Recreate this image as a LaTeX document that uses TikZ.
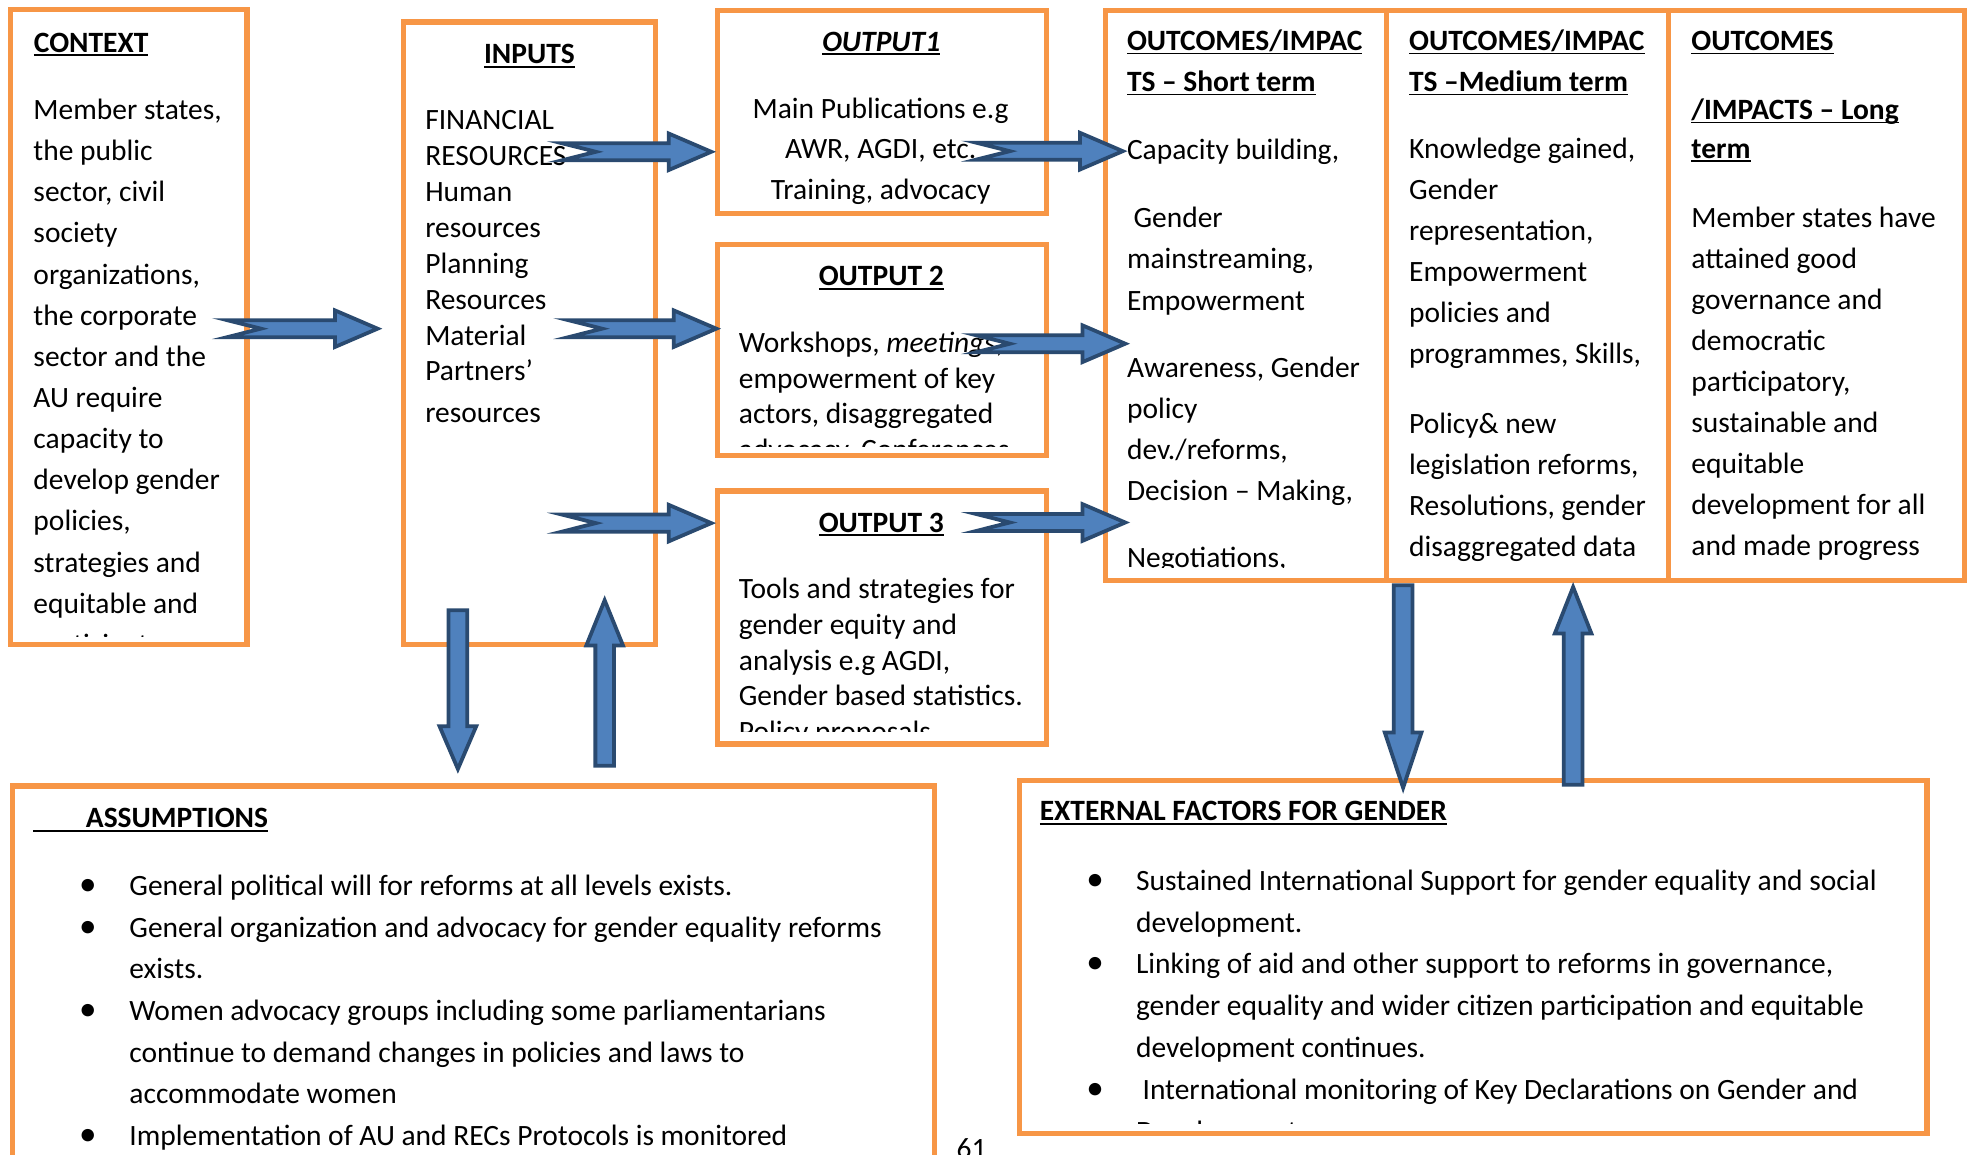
\documentclass[tikz,border=0pt]{standalone}
\usepackage{fontspec}
\setmainfont{Carlito}
\usetikzlibrary{calc,fit}

\definecolor{boxorange}{HTML}{F79646}
\definecolor{arrowfill}{HTML}{4F81BD}
\definecolor{arrowline}{HTML}{2A4A70}

% underlined heading text (rule slightly below the baseline)
\newlength\ulwd
\newcommand\ultext[1]{\leavevmode\settowidth\ulwd{#1}\rlap{\rule[-1.6pt]{\ulwd}{0.75pt}}#1}

% notched block arrow pointing right: tail coordinate, tip coordinate
\newcommand\harrow[2]{%
  \draw[barrow] let \p1=(#1), \p2=(#2) in
    (\x1,\y1+3.4pt) -- (\x2-17pt,\y1+3.4pt) -- (\x2-17pt,\y1+7.3pt) -- (\x2,\y1)
    -- (\x2-17pt,\y1-7.3pt) -- (\x2-17pt,\y1-3.4pt) -- (\x1,\y1-3.4pt)
    -- (\x1+13.5pt,\y1) -- cycle;}
% vertical block arrow: tail, tip, signed head length
\newcommand\varrow[3]{%
  \draw[barrow] let \p1=(#1), \p2=(#2), \n1={\y2+(#3)} in
    (\x1-3.7pt,\y1) -- (\x1-3.7pt,\n1) -- (\x1-7.3pt,\n1) -- (\x1,\y2)
    -- (\x1+7.3pt,\n1) -- (\x1+3.7pt,\n1) -- (\x1+3.7pt,\y1) -- cycle;}

\tikzset{
  obox/.style={draw=boxorange, line width=2.1pt, inner sep=0pt, outer sep=0pt},
  oline/.style={draw=boxorange, line width=2.1pt},
  txt/.style={anchor=base west, inner sep=0pt, outer sep=0pt, yshift=-0.6pt,
              font=\fontsize{11.75pt}{#1}\selectfont},
  txt/.default=16.4pt,
  ctxt/.style={txt=#1, anchor=base},
  ctxt/.default=16.4pt,
  hd/.style={txt, font=\fontsize{11.75pt}{16.35pt}\selectfont\bfseries},
  bul/.style={anchor=base, inner sep=0pt, yshift=-0.6pt, font=\fontsize{14pt}{14pt}\selectfont},
  barrow/.style={fill=arrowfill, draw=arrowline, line width=1.5pt, line join=miter},
}

\begin{document}
\begin{tikzpicture}[x=0.5pt,y=-0.5pt]
\useasboundingbox (0,0) rectangle (1568,920);
\clip (0,0) rectangle (1568,920);
\fill[white] (0,0) rectangle (1568,920);

% ---------- frames ----------
\node[obox, fit={(8.5,7.5) (197,514)}] (context) {};
\node[obox, fit={(321.7,17.6) (522.6,514)}] (inputs) {};
\node[obox, fit={(571.7,8.4) (834,170)}] (out1) {};
\node[obox, fit={(571.7,194.8) (834,363)}] (out2) {};
\node[obox, fit={(571.7,391.3) (834,593)}] (out3) {};
\node[obox, fit={(881,8.4) (1566,463)}] (outcomes) {};
\draw[oline] (1105,8.4) -- (1105,463);
\draw[oline] (1330.3,8.4) -- (1330.3,463);
\node[obox, fit={(10,626.5) (745,990)}] (assump) {};
\node[obox, fit={(812.8,622) (1536,903.8)}] (extern) {};

% ---------- context ----------
\node[hd] (ctx-h) at (27,40.3) {\ultext{CONTEXT}};
\begin{scope}
  \clip (12,12) rectangle (193,507.5);
  \node[txt=16.4pt] (ctx-b) at (26.7,94) {\parbox[t]{160pt}{Member states,\\the public\\sector, civil\\society\\organizations,\\the corporate\\sector and the\\AU require\\capacity to\\develop gender\\policies,\\strategies and\\equitable and\\participatory}};
\end{scope}

% ---------- inputs ----------
\node[hd, anchor=base] (in-h) at (422,49.7) {\ultext{INPUTS}};
\node[txt=14.3pt] (in-b) at (339,102.3) {\parbox[t]{120pt}{FINANCIAL\\RESOURCES\\Human\\resources\\Planning\\Resources\\Material\\Partners’}};
\node[txt] (in-c) at (339,335.5) {resources};

% ---------- outputs ----------
\node[hd, anchor=base] (o1-h) at (702.5,39.7) {\ultext{\textit{OUTPUT1}}};
\node[ctxt=16.25pt] (o1-b) at (702,93) {\parbox[t]{160pt}{\centering Main Publications e.g\\AWR, AGDI, etc.\\Training, advocacy}};

\node[hd, anchor=base] (o2-h) at (702.5,226.6) {\ultext{OUTPUT 2}};
\begin{scope}
  \clip (575,200) rectangle (830,356);
  \node[txt=14.15pt] (o2-b) at (589,280) {\parbox[t]{160pt}{Workshops, \textit{meetings},\\empowerment of key\\actors, disaggregated\\advocacy, Conferences}};
\end{scope}

\node[hd, anchor=base] (o3-h) at (702.5,423) {\ultext{OUTPUT 3}};
\begin{scope}
  \clip (575,395) rectangle (830,583.5);
  \node[txt=14.25pt] (o3-b) at (589,476) {\parbox[t]{160pt}{Tools and strategies for\\gender equity and\\analysis e.g AGDI,\\Gender based statistics.\\Policy proposals}};
\end{scope}

% ---------- outcomes: short term ----------
\node[hd] (st-h) at (898.4,39) {\parbox[t]{140pt}{\ultext{OUTCOMES/IMPAC}\\\ultext{TS – Short term}}};
\node[txt] (st-1) at (898.4,125.7) {Capacity building,};
\node[txt=16.5pt] (st-2) at (898.4,180) {\parbox[t]{120pt}{\hspace*{2.6pt}Gender\\mainstreaming,\\Empowerment}};
\node[txt=16.4pt] (st-3) at (898.4,299.6) {\parbox[t]{120pt}{Awareness, Gender\\policy\\dev./reforms,\\Decision – Making,}};
\begin{scope}
  \clip (885,300) rectangle (1100,452.5);
  \node[txt] (st-4) at (898.4,451.5) {Negotiations,};
\end{scope}

% ---------- outcomes: medium term ----------
\node[hd] (md-h) at (1123.3,39) {\parbox[t]{140pt}{\ultext{OUTCOMES/IMPAC}\\\ultext{TS –Medium term}}};
\node[txt=16.35pt] (md-1) at (1123.3,125) {\parbox[t]{130pt}{Knowledge gained,\\Gender\\representation,\\Empowerment\\policies and\\programmes, Skills,}};
\node[txt=16.4pt] (md-2) at (1123.3,344) {\parbox[t]{130pt}{Policy\& new\\legislation reforms,\\Resolutions, gender\\disaggregated data}};

% ---------- outcomes: long term ----------
\node[hd] (lg-h1) at (1348.3,39) {\ultext{OUTCOMES}};
\node[hd] (lg-h2) at (1348.3,94) {\ultext{/IMPACTS – Long}};
\node[hd] (lg-h3) at (1348.3,125) {\ultext{term}};
\node[txt=16.35pt] (lg-b) at (1348.3,180) {\parbox[t]{140pt}{Member states have\\attained good\\governance and\\democratic\\participatory,\\sustainable and\\equitable\\development for all\\and made progress}};

% ---------- assumptions ----------
\node[hd] (as-h) at (26.5,658.5) {\ultext{\hspace*{21pt}ASSUMPTIONS}};
\node[txt=16.6pt] (as-b) at (103.2,712.6) {\parbox[t]{420pt}{General political will for reforms at all levels exists.\\General organization and advocacy for gender equality reforms\\exists.\\Women advocacy groups including some parliamentarians\\continue to demand changes in policies and laws to\\accommodate women\\Implementation of AU and RECs Protocols is monitored}};
\node[bul] (as-d1) at (70,712.6) {•};
\node[bul] (as-d2) at (70,745.8) {•};
\node[bul] (as-d3) at (70,812.2) {•};
\node[bul] (as-d4) at (70,911.8) {•};
\node[txt] (page) at (762.6,922) {61};

% ---------- external factors ----------
\node[hd] (ex-h) at (828.9,653.2) {\ultext{EXTERNAL FACTORS FOR GENDER}};
\begin{scope}
  \clip (815,630) rectangle (1532,895.5);
  \node[txt=16.67pt] (ex-b) at (905.6,708.5) {\parbox[t]{420pt}{Sustained International Support for gender equality and social\\development.\\Linking of aid and other support to reforms in governance,\\gender equality and wider citizen participation and equitable\\development continues.\\\hspace*{2.6pt}International monitoring of Key Declarations on Gender and\\Development}};
\end{scope}
\node[bul] (ex-d1) at (873,708.5) {•};
\node[bul] (ex-d2) at (873,775.2) {•};
\node[bul] (ex-d3) at (873,875.2) {•};

% ---------- arrow end points ----------
\coordinate (a1s) at (181,262);   \coordinate (a1e) at (301,262);
\coordinate (a2s) at (448,121);   \coordinate (a2e) at (567,121);
\coordinate (a3s) at (453,262);   \coordinate (a3e) at (571,262);
\coordinate (a4s) at (448,417);   \coordinate (a4e) at (567,417);
\coordinate (a5s) at (778,120.5); \coordinate (a5e) at (895,120.5);
\coordinate (a6s) at (778,274);   \coordinate (a6e) at (897,274);
\coordinate (a7s) at (778,416.5); \coordinate (a7e) at (897,416.5);
\coordinate (v1s) at (365,486.5);   \coordinate (v1e) at (365,613);
\coordinate (v2s) at (482,610.5);   \coordinate (v2e) at (482,478.5);
\coordinate (v3s) at (1118.5,466.5);\coordinate (v3e) at (1118.5,628);
\coordinate (v4s) at (1254,625.5);  \coordinate (v4e) at (1254,468);

% ---------- block arrows ----------
\harrow{a1s}{a1e}
\harrow{a2s}{a2e}
\harrow{a3s}{a3e}
\harrow{a4s}{a4e}
\harrow{a5s}{a5e}
\harrow{a6s}{a6e}
\harrow{a7s}{a7e}
\varrow{v1s}{v1e}{17pt}
\varrow{v2s}{v2e}{-18pt}
\varrow{v3s}{v3e}{22pt}
\varrow{v4s}{v4e}{-18.5pt}
\end{tikzpicture}
\end{document}
